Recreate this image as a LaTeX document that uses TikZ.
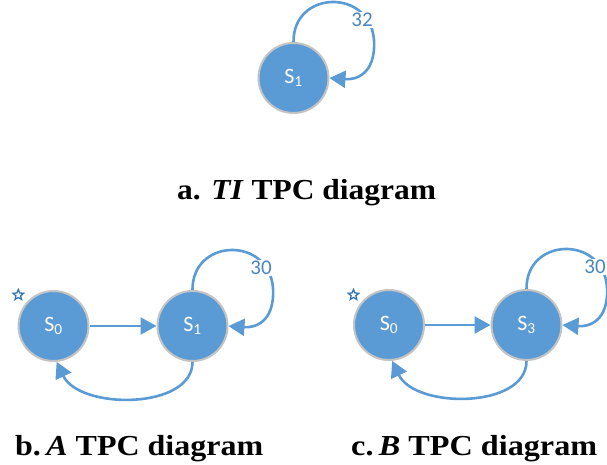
\documentclass[tikz,border=0pt]{standalone}
\usepackage{fontspec}
\setmainfont{Liberation Serif}
\newfontfamily\capfont{Liberation Serif}
\newfontfamily\calfont{Carlito}
\usetikzlibrary{arrows.meta,calc,shapes.geometric}
\definecolor{stblue}{HTML}{5B9BD5}
\definecolor{stborder}{HTML}{C4C4C4}
\definecolor{lblblue}{HTML}{4A86C5}
\definecolor{starblue}{HTML}{2E75B6}
\newcommand\mkloop[2]{%
  \draw[conn] (#1.north) .. controls ($(#1)+(-0.5,-88)$) and ($(#1)+(76.5,-90)$) .. ($(#1)+(80.5,-38)$)
    .. controls ($(#1)+(82.5,-3)$) and ($(#1)+(61.5,2)$) .. (#1.east);
  \node[lbl] (#1lab) at ($(#1)+(68.5,-58)$) {#2};}
\begin{document}
\begin{tikzpicture}[x=1pt,y=-1pt,
  state/.style={circle,fill=stblue,draw=stborder,line width=2pt,minimum size=70pt,inner sep=0pt,
    text=white,font=\calfont\fontsize{22}{24}\selectfont},
  conn/.style={draw=stblue,line width=2.6pt,-{Triangle[length=16pt,width=17pt]}},
  lbl/.style={fill=white,text=lblblue,inner sep=1.5pt,font=\calfont\fontsize{21}{24}\selectfont},
  startmark/.style={star,star points=5,star point ratio=2.2,draw=starblue,line width=1.3pt,minimum size=11pt,inner sep=0pt},
  capt/.style={anchor=base west,inner sep=0pt,font=\capfont\bfseries\fontsize{29}{32}\selectfont}]
\useasboundingbox (0,0) rectangle (607,465);
% a
\node[state] (ta) at (293.5,78) {S\textsubscript{1}};
\mkloop{ta}{32}
\node[capt] (capa) at (177,200) {\resizebox{259pt}{\height}{\capfont\bfseries a. \textit{TI} TPC diagram}};
% b
\node[state] (b0) at (53.5,326) {S\textsubscript{0}};
\node[state] (b1) at (192.5,326) {S\textsubscript{1}};
\node[startmark] (bstar) at (18.3,295) {};
\draw[conn] (b0.east) -- (b1.west);
\mkloop{b1}{30}
\draw[conn] (b1.south) .. controls ($(b1)+(0,84)$) and ($(b0)+(26,84)$) .. (b0.-85);
\node[capt] (capb) at (15,455) {\resizebox{248pt}{\height}{\capfont\bfseries b.\,\textit{A} TPC diagram}};
% c
\node[state] (c0) at (389,325) {S\textsubscript{0}};
\node[state] (c3) at (526.5,325) {S\textsubscript{3}};
\node[startmark] (cstar) at (353.5,295) {};
\draw[conn] (c0.east) -- (c3.west);
\mkloop{c3}{30}
\draw[conn] (c3.south) .. controls ($(c3)+(0,84)$) and ($(c0)+(26,84)$) .. (c0.-85);
\node[capt] (capc) at (351,455) {\resizebox{246pt}{\height}{\capfont\bfseries c.\,\textit{B} TPC diagram}};
\end{tikzpicture}
\end{document}
